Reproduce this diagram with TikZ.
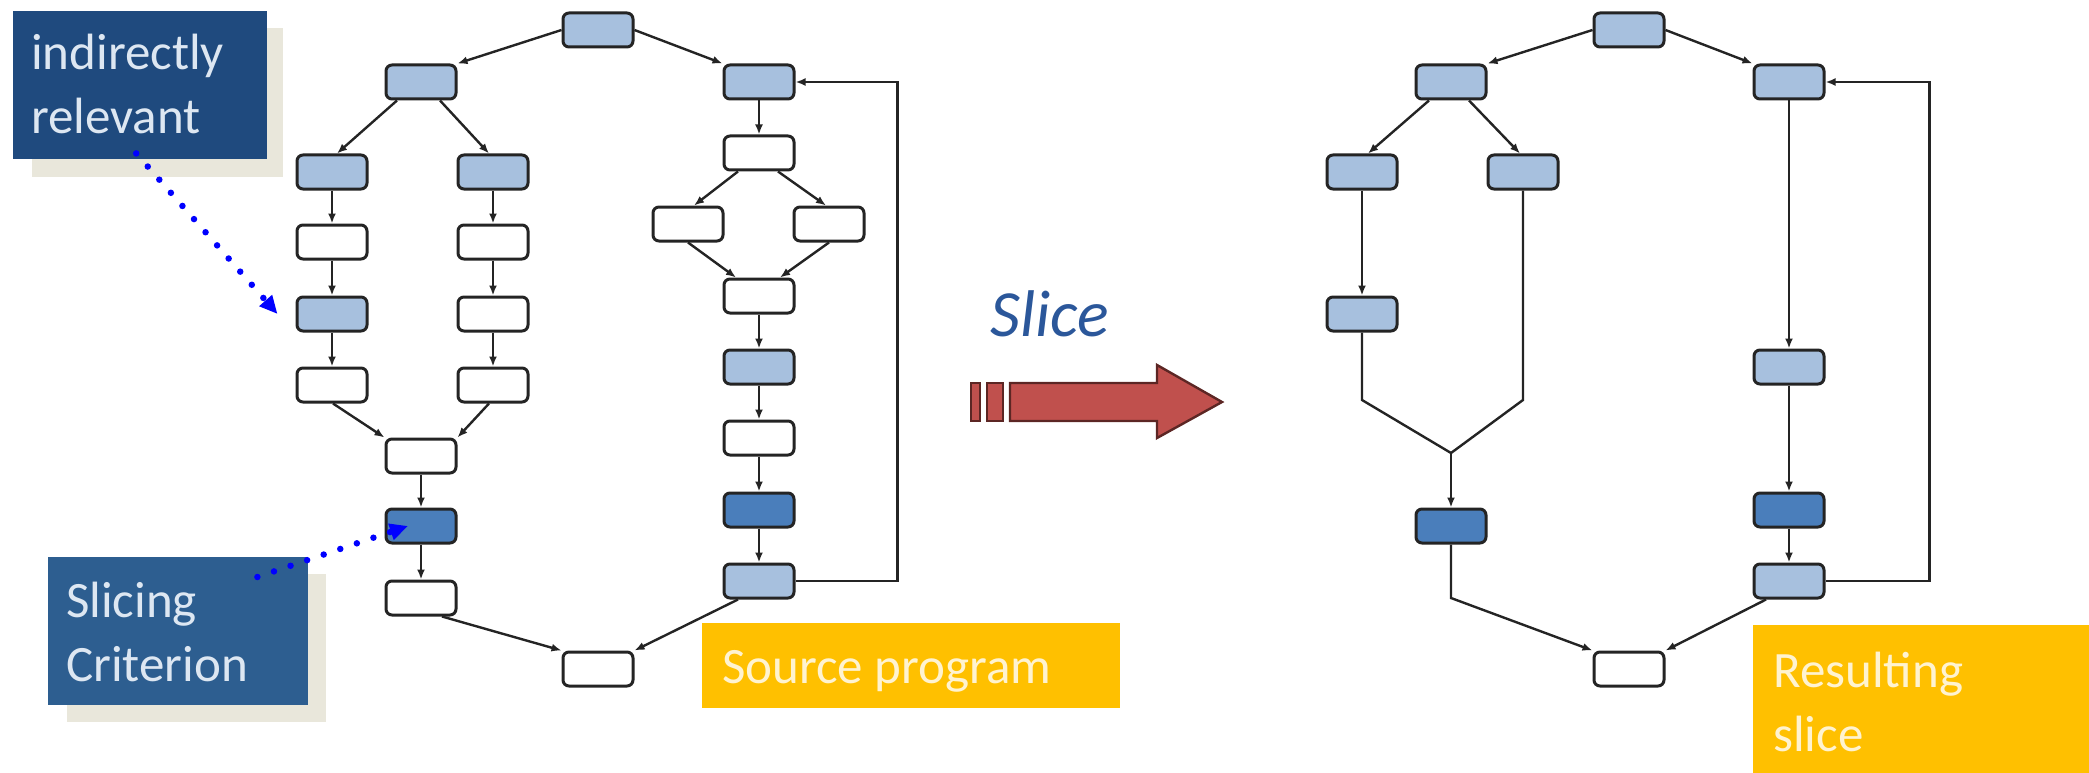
\documentclass[tikz,border=0pt]{standalone}
\usepackage{fontspec}
\setmainfont{Carlito}
\usetikzlibrary{arrows.meta}

\definecolor{nodelight}{HTML}{A7C0DE}
\definecolor{nodedark}{HTML}{4A7EBB}
\definecolor{nodeline}{HTML}{242424}
\definecolor{navyA}{HTML}{1F4A7E}
\definecolor{navyB}{HTML}{2D5E90}
\definecolor{shade}{HTML}{E9E7DB}
\definecolor{amber}{HTML}{FFC000}
\definecolor{amberText}{HTML}{FFF3D0}
\definecolor{labelText}{HTML}{DDE7F2}
\definecolor{sliceBlue}{HTML}{2B579A}
\definecolor{arrowRed}{HTML}{C0504D}
\definecolor{arrowEdge}{HTML}{5C2624}
\definecolor{dotBlue}{HTML}{0000FF}

\newcommand{\bigtext}{\fontsize{51}{64}\selectfont}

\begin{document}
\begin{tikzpicture}[x=1pt,y=-1pt,
  box/.style={draw=nodeline, line width=3pt, rounded corners=6pt,
              minimum width=70pt, minimum height=34pt, inner sep=0pt},
  pale/.style={box, fill=nodelight},
  deep/.style={box, fill=nodedark},
  blank/.style={box, fill=white},
  flow/.style={draw=nodeline, line width=2.4pt, -{Latex[length=10pt,width=8pt]}},
  link/.style={draw=nodeline, line width=2.4pt},
  pointer/.style={draw=dotBlue, line width=6.5pt, line cap=round,
                  dash pattern=on 0pt off 17.5pt,
                  -{Triangle[length=18pt,width=16pt,fill=dotBlue]}},
  panel/.style={anchor=north west, inner sep=0pt},
  caption/.style={anchor=base west, inner sep=0pt, font=\bigtext},
  redshape/.style={fill=arrowRed, draw=arrowEdge, line width=2.4pt, line join=miter}
]
\useasboundingbox (0,0) rectangle (2089,773);

% ---- callout panels ----
\node[panel, fill=shade, minimum width=251pt, minimum height=149pt] (indshade) at (32,28) {};
\node[panel, fill=navyA, minimum width=254pt, minimum height=148pt] (ind) at (13,11) {};
\node[caption, text=labelText] (indtxt) at (31,70)
  {\begin{tabular}[t]{@{}l@{}}indirectly\\relevant\end{tabular}};

\node[panel, fill=shade, minimum width=259pt, minimum height=148pt] (critshade) at (67,574) {};
\node[panel, fill=navyB, minimum width=260pt, minimum height=148pt] (crit) at (48,557) {};
\node[caption, text=labelText] (crittxt) at (66,617)
  {\begin{tabular}[t]{@{}l@{}}Slicing\\Criterion\end{tabular}};

\node[panel, fill=amber, minimum width=418pt, minimum height=85pt] (src) at (702,623) {};
\node[caption, text=amberText] (srctxt) at (722,683) {Source program};

\node[panel, fill=amber, minimum width=336pt, minimum height=148pt] (res) at (1753,625) {};
\node[caption, text=amberText] (restxt) at (1773,687)
  {\begin{tabular}[t]{@{}l@{}}Resulting\\slice\end{tabular}};

% ---- source program graph ----
\node[pale]  (T)   at (598,30)  {};
\node[pale]  (L1)  at (421,82)  {};
\node[pale]  (R1)  at (759,82)  {};
\node[pale]  (LA1) at (332,172) {};
\node[blank] (LA2) at (332,242) {};
\node[pale]  (LA3) at (332,314) {};
\node[blank] (LA4) at (332,385) {};
\node[pale]  (LB1) at (493,172) {};
\node[blank] (LB2) at (493,242) {};
\node[blank] (LB3) at (493,314) {};
\node[blank] (LB4) at (493,385) {};
\node[blank] (M1)  at (421,456) {};
\node[deep]  (M2)  at (421,526) {};
\node[blank] (M3)  at (421,598) {};
\node[blank] (B)   at (598,669) {};
\node[blank] (R2)  at (759,153) {};
\node[blank] (R3a) at (688,224) {};
\node[blank] (R3b) at (829,224) {};
\node[blank] (R4)  at (759,296) {};
\node[pale]  (R5)  at (759,367) {};
\node[blank] (R6)  at (759,438) {};
\node[deep]  (R7)  at (759,510) {};
\node[pale]  (R8)  at (759,581) {};

\draw[flow] (T.west) -- (L1.north east);
\draw[flow] (T.east) -- (R1.north west);
\draw[flow] ([xshift=-24pt]L1.south) -- ([xshift=5pt]LA1.north);
\draw[flow] ([xshift=19pt]L1.south) -- ([xshift=-4pt]LB1.north);
\draw[flow] (LA1) -- (LA2);
\draw[flow] (LA2) -- (LA3);
\draw[flow] (LA3) -- (LA4);
\draw[flow] (LB1) -- (LB2);
\draw[flow] (LB2) -- (LB3);
\draw[flow] (LB3) -- (LB4);
\draw[flow] ([xshift=1pt]LA4.south) -- (M1.north west);
\draw[flow] ([xshift=-4pt]LB4.south) -- (M1.north east);
\draw[flow] (M1) -- (M2);
\draw[flow] (M2) -- (M3);
\draw[flow] ([xshift=21pt]M3.south) -- (B.north west);
\draw[flow] (R1) -- (R2);
\draw[flow] ([xshift=-21pt]R2.south) -- ([xshift=6pt]R3a.north);
\draw[flow] ([xshift=19pt]R2.south) -- ([xshift=-3pt]R3b.north);
\draw[flow] (R3a.south) -- ([xshift=-23pt]R4.north);
\draw[flow] (R3b.south) -- ([xshift=21pt]R4.north);
\draw[flow] (R4) -- (R5);
\draw[flow] (R5) -- (R6);
\draw[flow] (R6) -- (R7);
\draw[flow] (R7) -- (R8);
\draw[flow] ([xshift=-21pt]R8.south) -- (B.north east);
\draw[flow] (R8.east) -- ++(102pt,0) |- (R1.east);

% ---- pointers from the callouts ----
\draw[pointer] ([xshift=-4pt,yshift=6pt]ind.south) -- ([xshift=-18pt]LA3.west);
\draw[pointer] ([xshift=-51pt,yshift=-20pt]crit.north east) -- ([xshift=-13pt]M2.center);

% ---- slice arrow ----
\node[anchor=base west, inner sep=0pt, text=sliceBlue,
      font=\fontsize{66}{72}\selectfont\itshape] (slicelbl) at (990,336) {Slice};
\filldraw[redshape] (971,383) rectangle (980,421);
\filldraw[redshape] (987,383) rectangle (1003,421);
\filldraw[redshape] (1010,383) -- (1157,383) -- (1157,365) -- (1222,402)
  -- (1157,438) -- (1157,421) -- (1010,421) -- cycle;

% ---- resulting slice graph ----
\node[pale]  (sT)   at (1629,30)  {};
\node[pale]  (sL1)  at (1451,82)  {};
\node[pale]  (sR1)  at (1789,82)  {};
\node[pale]  (sLA1) at (1362,172) {};
\node[pale]  (sLB1) at (1523,172) {};
\node[pale]  (sLA3) at (1362,314) {};
\node[deep]  (sM2)  at (1451,526) {};
\node[blank] (sB)   at (1629,669) {};
\node[pale]  (sR5)  at (1789,367) {};
\node[deep]  (sR7)  at (1789,510) {};
\node[pale]  (sR8)  at (1789,581) {};

\coordinate (sKa) at (1362,400);
\coordinate (sKb) at (1523,400);
\coordinate (sJ)  at (1451,453);
\coordinate (sKc) at (1451,598);

\draw[flow] (sT.west) -- (sL1.north east);
\draw[flow] (sT.east) -- (sR1.north west);
\draw[flow] ([xshift=-22pt]sL1.south) -- ([xshift=6pt]sLA1.north);
\draw[flow] ([xshift=18pt]sL1.south) -- ([xshift=-3pt]sLB1.north);
\draw[flow] (sLA1) -- (sLA3);
\draw[link] (sLA3.south) -- (sKa) -- (sJ);
\draw[link] (sLB1.south) -- (sKb) -- (sJ);
\draw[flow] (sJ) -- (sM2.north);
\draw[flow] (sM2.south) -- (sKc) -- (sB.north west);
\draw[flow] (sR1) -- (sR5);
\draw[flow] (sR5) -- (sR7);
\draw[flow] (sR7) -- (sR8);
\draw[flow] ([xshift=-23pt]sR8.south) -- (sB.north east);
\draw[flow] (sR8.east) -- ++(104pt,0) |- (sR1.east);
\end{tikzpicture}
\end{document}
